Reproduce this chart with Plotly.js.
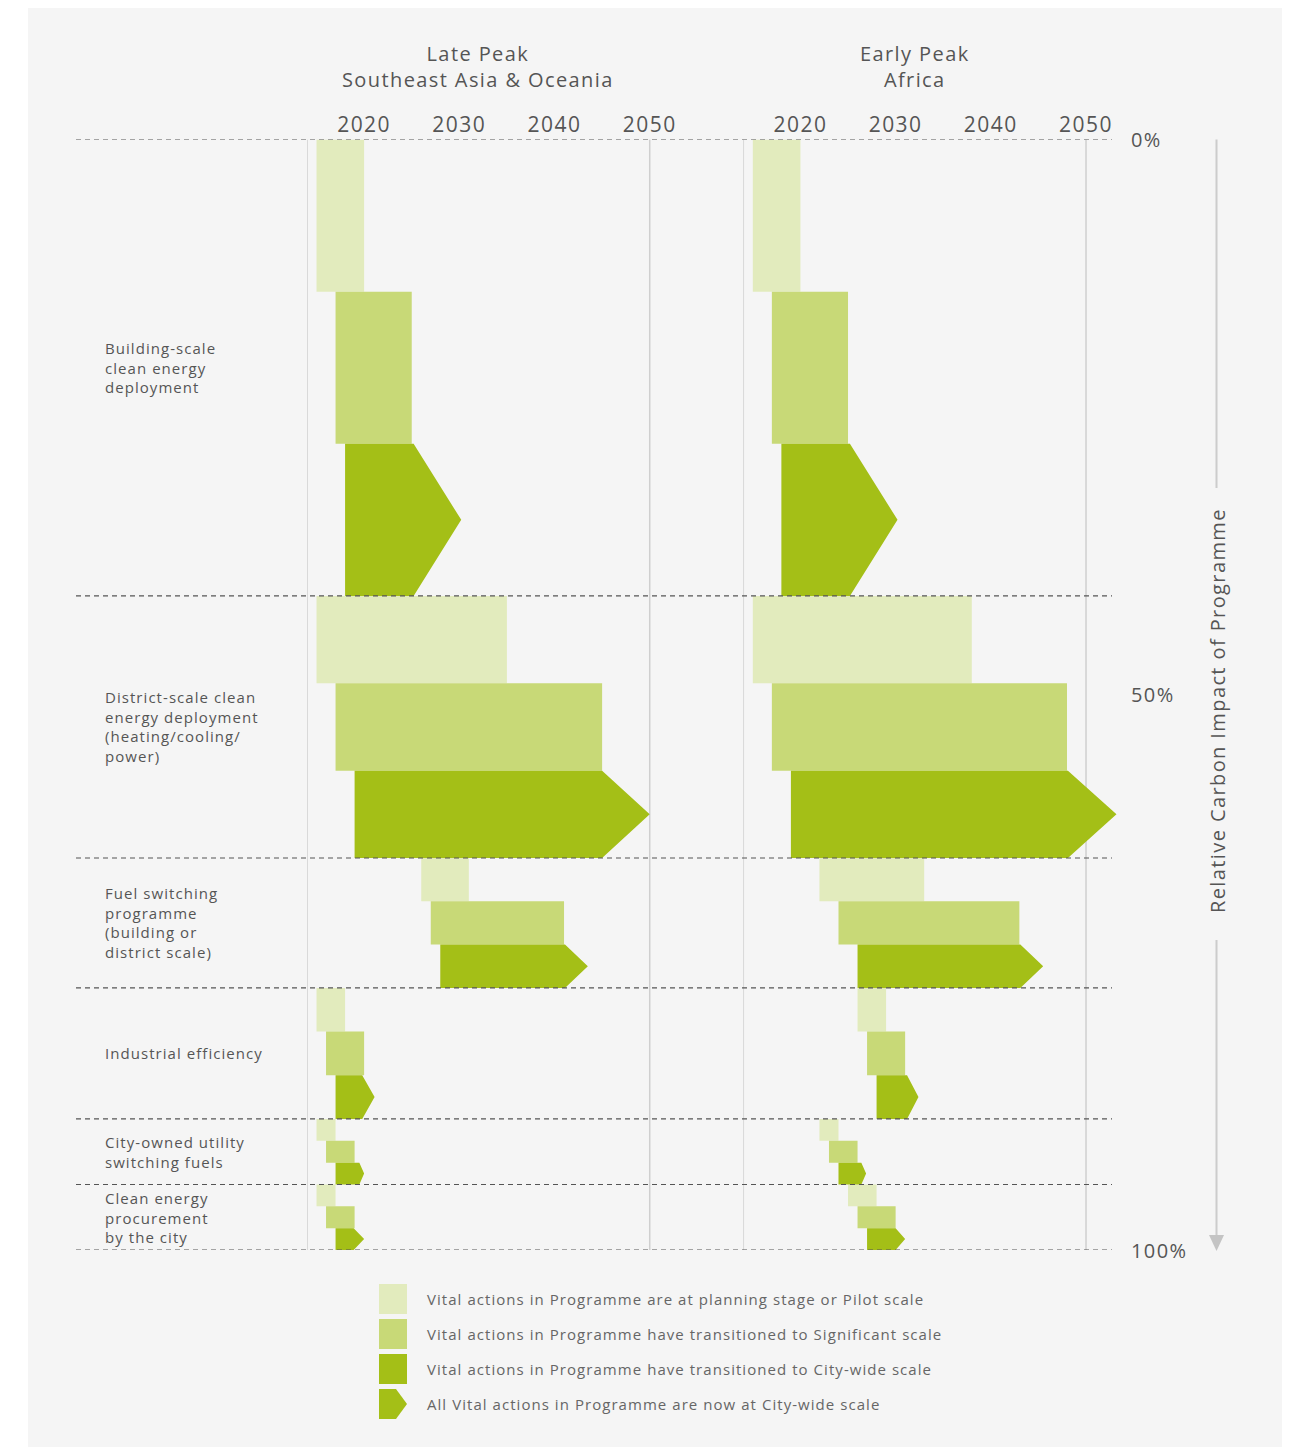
<!DOCTYPE html>
<html>
<head>
<meta charset="utf-8">
<script src="https://cdn.plot.ly/plotly-3.0.1.min.js"></script>
<style>
  html, body { margin:0; padding:0; background:#ffffff; }
  #bg { position:absolute; left:28px; top:8px; width:1254px; height:1439px; background:#f5f5f5; }
  #chart { position:absolute; left:0; top:0; width:1299px; height:1447px; }
  text { letter-spacing: 0.07em; }
</style>
</head>
<body>
<div id="bg"></div>
<div id="chart"></div>
<script>
// ---------------- DATA ----------------
const categories = [
  "Building-scale<br>clean energy<br>deployment",
  "District-scale clean<br>energy deployment<br>(heating/cooling/<br>power)",
  "Fuel switching<br>programme<br>(building or<br>district scale)",
  "Industrial efficiency",
  "City-owned utility<br>switching fuels",
  "Clean energy<br>procurement<br>by the city"
];
// cumulative relative carbon impact (%) – section boundaries
const sectionBounds = [0, 41.1, 64.7, 76.4, 88.2, 94.1, 100];

const panelTitles = ["Late Peak<br>Southeast Asia & Oceania", "Early Peak<br>Africa"];
const yearTicks = [2020, 2030, 2040, 2050];
const pctTicks = [0, 50, 100];
const pctLabels = ["0%", "50%", "100%"];

// Late Peak – Southeast Asia & Oceania
const latePilotStart = [2015, 2015, 2026, 2015, 2015, 2015];
const latePilotEnd   = [2020, 2035, 2031, 2018, 2017, 2017];
const lateSigStart   = [2017, 2017, 2027, 2016, 2016, 2016];
const lateSigEnd     = [2025, 2045, 2041, 2020, 2019, 2019];
const lateCityStart  = [2018, 2019, 2028, 2017, 2017, 2017];
const lateCityEnd    = [2025.2, 2045, 2041.1, 2019.8, 2019.5, 2018.9];
const lateAllCity    = [2030.2, 2050, 2043.5, 2021.1, 2020, 2020];

// Early Peak – Africa
const earlyPilotStart = [2015, 2015, 2022, 2026, 2022, 2025];
const earlyPilotEnd   = [2020, 2038, 2033, 2029, 2024, 2028];
const earlySigStart   = [2017, 2017, 2024, 2027, 2023, 2026];
const earlySigEnd     = [2025, 2048, 2043, 2031, 2026, 2030];
const earlyCityStart  = [2018, 2019, 2026, 2028, 2024, 2027];
const earlyCityEnd    = [2025.2, 2048.1, 2043.1, 2031.2, 2026.4, 2030];
const earlyAllCity    = [2030.2, 2053.2, 2045.5, 2032.4, 2026.9, 2031];

const legendLabels = [
  "Vital actions in Programme are at planning stage or Pilot scale",
  "Vital actions in Programme have transitioned to Significant scale",
  "Vital actions in Programme have transitioned to City-wide scale",
  "All Vital actions in Programme are now at City-wide scale"
];

// ---------------- STYLE ----------------
const C_PILOT = "#e2ebbd", C_SIG = "#c8d977", C_CITY = "#a4bf17";
const TXT = "#555555";
const FONT = "Open Sans";
const W = 1299, H = 1447;
const px = p => p / W;          // paper x from pixel
const py = p => 1 - p / H;      // paper y from pixel
const X_RANGE = [2014, 2054];
const PPY = 9.52;               // pixels per year
const leftPx0 = 307, rightPx0 = 743.3;
const yTop = 139.5, yBot = 1250;

// ---------------- TRACES ----------------
function panelTraces(xa, ps, pe, ss, se, cs, ce, tip) {
  const pil = {x:[], y:[]}, sig = {x:[], y:[]}, cit = {x:[], y:[]};
  for (let i = 0; i < categories.length; i++) {
    const y0 = sectionBounds[i], y1 = sectionBounds[i+1], h = (y1 - y0) / 3;
    pil.x.push(ps[i], pe[i], pe[i], ps[i], ps[i], null);
    pil.y.push(y0, y0, y0+h, y0+h, y0, null);
    sig.x.push(ss[i], se[i], se[i], ss[i], ss[i], null);
    sig.y.push(y0+h, y0+h, y0+2*h, y0+2*h, y0+h, null);
    cit.x.push(cs[i], ce[i], tip[i], ce[i], cs[i], cs[i], null);
    cit.y.push(y0+2*h, y0+2*h, y0+2.5*h, y1, y1, y0+2*h, null);
  }
  const mk = (d, c) => ({type:"scatter", mode:"lines", x:d.x, y:d.y, xaxis:xa, yaxis:"y",
    fill:"toself", fillcolor:c, line:{width:0, color:c}, hoverinfo:"skip", showlegend:false});
  return [mk(pil, C_PILOT), mk(sig, C_SIG), mk(cit, C_CITY)];
}

const traces = [
  ...panelTraces("x", latePilotStart, latePilotEnd, lateSigStart, lateSigEnd, lateCityStart, lateCityEnd, lateAllCity),
  ...panelTraces("x2", earlyPilotStart, earlyPilotEnd, earlySigStart, earlySigEnd, earlyCityStart, earlyCityEnd, earlyAllCity)
];

// ---------------- SHAPES ----------------
const shapes = [];
["x", "x2"].forEach(xr => {
  [2014, 2050].forEach(v => shapes.push({type:"line", xref:xr, yref:"y", x0:v, x1:v, y0:0, y1:100,
    line:{color:"#cfcfcf", width:1.5}, layer:"below"}));
});
sectionBounds.forEach(b => shapes.push({type:"line", xref:"paper", yref:"y", x0:px(76), x1:px(1112), y0:b, y1:b,
  line:{color:"#555555", width:1.2, dash:"5px,4px"}}));
shapes.push({type:"line", xref:"paper", yref:"paper", x0:px(1216.5), x1:px(1216.5), y0:py(139.5), y1:py(488),
  line:{color:"#cccccc", width:2}});
shapes.push({type:"line", xref:"paper", yref:"paper", x0:px(1216.5), x1:px(1216.5), y0:py(940), y1:py(1237),
  line:{color:"#cccccc", width:2}});
shapes.push({type:"path", xref:"paper", yref:"paper",
  path:`M ${px(1209)} ${py(1235)} L ${px(1224)} ${py(1235)} L ${px(1216.5)} ${py(1251)} Z`,
  fillcolor:"#c4c4c4", line:{width:0}});

const legColors = [C_PILOT, C_SIG, C_CITY];
const legTop = [1284, 1319, 1354, 1389];
legColors.forEach((c, i) => shapes.push({type:"rect", xref:"paper", yref:"paper",
  x0:px(379), x1:px(407), y0:py(legTop[i]), y1:py(legTop[i]+30), fillcolor:c, line:{width:0}}));
shapes.push({type:"path", xref:"paper", yref:"paper",
  path:`M ${px(379)} ${py(1389)} L ${px(396)} ${py(1389)} L ${px(407)} ${py(1404)} L ${px(396)} ${py(1419)} L ${px(379)} ${py(1419)} Z`,
  fillcolor:C_CITY, line:{width:0}});

// ---------------- ANNOTATIONS ----------------
const annotations = [];
panelTitles.forEach((t, i) => annotations.push({xref:i ? "x2" : "x", yref:"paper", x:2032, y:py(67),
  text:t, showarrow:false, xanchor:"center", yanchor:"middle", align:"center",
  font:{family:FONT, size:20, color:TXT}}));
categories.forEach((c, i) => annotations.push({xref:"paper", yref:"y", x:px(103),
  y:(sectionBounds[i] + sectionBounds[i+1]) / 2, text:c, showarrow:false, xanchor:"left", yanchor:"middle",
  align:"left", font:{family:FONT, size:15, color:TXT}}));
pctTicks.forEach((v, i) => annotations.push({xref:"paper", yref:"y", x:px(1129), y:v, text:pctLabels[i],
  showarrow:false, xanchor:"left", yanchor:"middle", font:{family:FONT, size:20, color:TXT}}));
annotations.push({xref:"paper", yref:"paper", x:px(1217), y:py(711), text:"Relative Carbon Impact of Programme",
  textangle:-90, showarrow:false, xanchor:"center", yanchor:"middle", font:{family:FONT, size:20, color:TXT}});
legendLabels.forEach((t, i) => annotations.push({xref:"paper", yref:"paper", x:px(425), y:py(legTop[i]+15),
  text:t, showarrow:false, xanchor:"left", yanchor:"middle", font:{family:FONT, size:15, color:"#666666"}}));

// ---------------- LAYOUT ----------------
const xCommon = {range:X_RANGE, side:"top", tickvals:yearTicks, ticks:"", showgrid:false, zeroline:false,
  showline:false, fixedrange:true, tickfont:{family:FONT, size:21, color:TXT}, anchor:"y", ticklabelstandoff:2};
const layout = {
  width:W, height:H, margin:{l:0, r:0, t:0, b:0},
  paper_bgcolor:"rgba(0,0,0,0)", plot_bgcolor:"rgba(0,0,0,0)",
  showlegend:false, font:{family:FONT, color:TXT},
  xaxis:Object.assign({}, xCommon, {domain:[px(leftPx0), px(leftPx0 + 40*PPY)]}),
  xaxis2:Object.assign({}, xCommon, {domain:[px(rightPx0), px(rightPx0 + 40*PPY)]}),
  yaxis:{range:[100, 0], domain:[py(yBot), py(yTop)], showticklabels:false, ticks:"", showgrid:false,
    zeroline:false, showline:false, fixedrange:true, anchor:"x"},
  shapes:shapes, annotations:annotations
};

Plotly.newPlot("chart", traces, layout, {staticPlot:true, displayModeBar:false});
</script>
</body>
</html>
